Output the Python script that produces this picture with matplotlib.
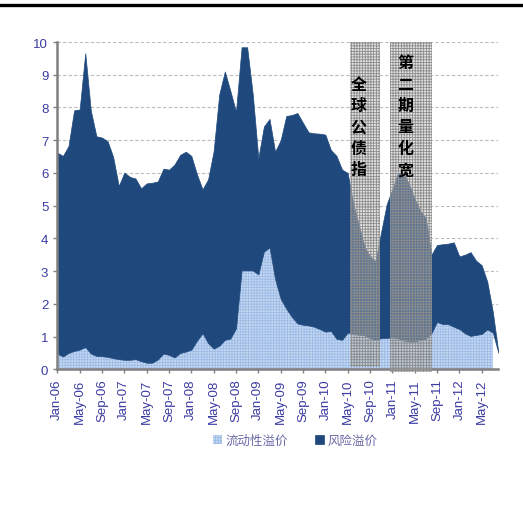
import numpy as np
import matplotlib
matplotlib.use("Agg")
import matplotlib.pyplot as plt
from matplotlib.patches import Rectangle

plt.rcParams['font.family'] = ['Liberation Sans', 'Noto Sans CJK SC', 'DejaVu Sans']
plt.rcParams['hatch.linewidth'] = 0.6

# monthly spreads, Jan-06 .. Aug-12
liquidity = [0.48, 0.39, 0.50, 0.56, 0.60, 0.68, 0.48, 0.41, 0.40, 0.38,
             0.34, 0.31, 0.29, 0.29, 0.31, 0.25, 0.20, 0.20, 0.30, 0.48,
             0.44, 0.36, 0.50, 0.54, 0.60, 0.87, 1.10, 0.80, 0.63, 0.72,
             0.90, 0.94, 1.25, 3.02, 3.02, 3.02, 2.90, 3.60, 3.72, 2.75,
             2.15, 1.85, 1.60, 1.40, 1.36, 1.34, 1.30, 1.23, 1.15, 1.17,
             0.93, 0.90, 1.12, 1.10, 1.05, 1.04, 0.95, 0.90, 0.95, 0.96,
             0.97, 0.95, 0.88, 0.85, 0.85, 0.90, 0.94, 1.10, 1.45, 1.38,
             1.38, 1.30, 1.23, 1.10, 1.02, 1.05, 1.08, 1.22, 1.12, np.nan]
total_spread = [6.62, 6.52, 6.82, 7.91, 7.94, 9.66, 7.90, 7.12, 7.08, 6.97,
                6.49, 5.60, 6.01, 5.88, 5.83, 5.53, 5.68, 5.70, 5.74, 6.13,
                6.10, 6.26, 6.55, 6.65, 6.52, 5.96, 5.50, 5.80, 6.67, 8.40,
                9.10, 8.50, 7.87, 9.84, 9.84, 8.40, 6.45, 7.42, 7.65, 6.65,
                7.00, 7.74, 7.77, 7.83, 7.53, 7.24, 7.21, 7.20, 7.17, 6.70,
                6.52, 6.10, 6.00, 5.05, 4.40, 3.75, 3.45, 3.30, 4.20, 5.05,
                5.50, 5.99, 5.98, 5.65, 5.20, 4.84, 4.62, 3.50, 3.80, 3.82,
                3.84, 3.88, 3.45, 3.50, 3.58, 3.32, 3.18, 2.68, 1.75, 0.50]
tick_labels = ['Jan-06', 'May-06', 'Sep-06', 'Jan-07', 'May-07', 'Sep-07',
               'Jan-08', 'May-08', 'Sep-08', 'Jan-09', 'May-09', 'Sep-09',
               'Jan-10', 'May-10', 'Sep-10', 'Jan-11', 'May-11', 'Sep-11',
               'Jan-12', 'May-12']
# event windows (month index): start, end, label, bottom, label x, label y
events = [(52.5, 57.8, '全球公债指', 0.08, 53.9, 7.42),
          (59.6, 67.05, '第二期量化宽', -0.09, 62.3, 7.75)]

dark = '#1f497d'
light = '#c5d9f1'
label_col = '#3b3ba3'

x = np.arange(len(total_spread))
liq = np.array(liquidity)
tot = np.array(total_spread)
base = np.where(np.isnan(liq), tot, liq)

fig = plt.figure(figsize=(5.23, 5.06), dpi=100)
ax = fig.add_axes([0.1096, 0.2682, 0.8434, 0.6468])

ax.fill_between(x, 0, liq, facecolor=light, edgecolor='#9dbbe6',
                hatch='++++++', linewidth=0, zorder=2, label='流动性溢价')
ax.fill_between(x, base, tot, facecolor=dark, edgecolor=dark,
                linewidth=0.5, zorder=2, label='风险溢价')

for x0, x1, txt, y0, tx, ty in events:
    ax.add_patch(Rectangle((x0, y0), x1 - x0, 10 - y0, facecolor=(0.72, 0.72, 0.72, 0.4),
                           edgecolor='#8c8c8c', hatch='++++++', linewidth=0,
                           zorder=3, clip_on=False))
    ax.text(tx, ty, '\n'.join(txt), ha='center', va='center', fontsize=11.5,
            fontweight='bold', color='black', linespacing=1.42,
            family=['Noto Sans CJK SC'], zorder=4)

ax.set_xlim(0, 79)
ax.set_ylim(0, 10)
ax.set_yticks(range(0, 11))
ax.set_xticks(np.arange(0, 80, 4))
ax.set_xticklabels(tick_labels, rotation=90)
ax.tick_params(axis='both', colors='#808080', labelcolor=label_col, labelsize=9.5,
               length=3, width=1)
ax.yaxis.grid(True, linestyle=(0, (3, 2)), color='#bcbcbc', linewidth=0.8)
ax.set_axisbelow(True)
for s in ['top', 'right']:
    ax.spines[s].set_visible(False)
for s in ['left', 'bottom']:
    ax.spines[s].set_color('#808080')
    ax.spines[s].set_linewidth(1.8)

fig.legend(loc='center', bbox_to_anchor=(0.565, 0.128), ncol=2, frameon=False,
           prop={'family': ['Noto Sans CJK SC'], 'size': 9}, labelcolor='#6a6aa8',
           handlelength=0.7, handleheight=0.7, columnspacing=2.2, handletextpad=0.3)

fig.add_artist(plt.Line2D([0, 1], [0.9887, 0.9887], color='black', linewidth=2.4,
                          transform=fig.transFigure))

fig.savefig('out.png', dpi=100)
